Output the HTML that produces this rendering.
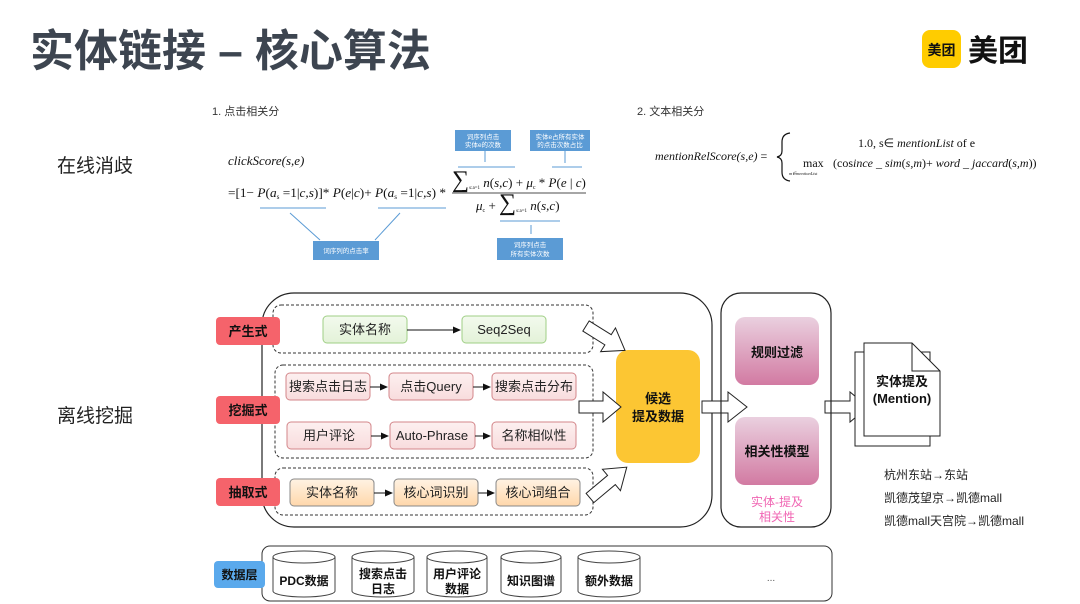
<!DOCTYPE html>
<html><head><meta charset="utf-8"><style>
html,body{margin:0;padding:0;background:#fff;}
svg{display:block;font-family:"Liberation Sans","Noto Sans CJK SC",sans-serif;}
.m{font-family:"Liberation Serif",serif;font-style:italic;fill:#111;}
.mr{font-family:"Liberation Serif",serif;font-size:13px;fill:#111;}
.bl{fill:#5b9bd5;}
.bt{fill:#fff;font-size:6.5px;text-anchor:middle;}
.t13{font-size:13px;fill:#222;text-anchor:middle;}
.b13{font-size:13px;fill:#111;text-anchor:middle;font-weight:bold;}
</style></head><body>
<svg width="1080" height="604" viewBox="0 0 1080 604" xmlns="http://www.w3.org/2000/svg">
<defs>
<linearGradient id="gg" x1="0" y1="0" x2="0" y2="1"><stop offset="0" stop-color="#f3faee"/><stop offset="1" stop-color="#e3f2d8"/></linearGradient>
<linearGradient id="rg" x1="0" y1="0" x2="0" y2="1"><stop offset="0" stop-color="#fdf0f0"/><stop offset="1" stop-color="#f8dcdd"/></linearGradient>
<linearGradient id="og" x1="0" y1="0" x2="0" y2="1"><stop offset="0" stop-color="#fff3e3"/><stop offset="1" stop-color="#ffd7ab"/></linearGradient>
<linearGradient id="pg" x1="0" y1="0" x2="0" y2="1"><stop offset="0" stop-color="#ead0df"/><stop offset="1" stop-color="#d27aa2"/></linearGradient>
<marker id="ah" markerWidth="8" markerHeight="8" refX="7" refY="4" orient="auto"><path d="M0,0.5 L8,4 L0,7.5 Z" fill="#111"/></marker>
</defs>

<!-- title -->
<text x="30" y="66" font-size="44" font-weight="bold" fill="#3d4550">实体链接 – 核心算法</text>
<rect x="922" y="30" width="39" height="38" rx="8" fill="#ffcc00"/>
<text x="941.5" y="55" font-size="14" font-weight="bold" text-anchor="middle" fill="#111">美团</text>
<text x="968" y="61" font-size="30" font-weight="bold" fill="#111">美团</text>

<text x="57" y="172" font-size="19" fill="#222">在线消歧</text>
<text x="57" y="422" font-size="19" fill="#222">离线挖掘</text>

<!-- formula 1 -->
<text x="212" y="115" font-size="11" fill="#333">1. 点击相关分</text>
<text x="228" y="165" class="m" style="font-size:13px">clickScore(s,e)</text>
<text x="228" y="197" class="mr" textLength="218" lengthAdjust="spacingAndGlyphs">=[1− <tspan class="m">P</tspan>(<tspan class="m">a</tspan><tspan font-size="7" dy="2">s</tspan><tspan dy="-2"> =1|</tspan><tspan class="m">c,s</tspan>)]* <tspan class="m">P</tspan>(<tspan class="m">e</tspan>|<tspan class="m">c</tspan>)+ <tspan class="m">P</tspan>(<tspan class="m">a</tspan><tspan font-size="7" dy="2">s</tspan><tspan dy="-2"> =1|</tspan><tspan class="m">c,s</tspan>) *</text>
<text x="452" y="187" class="mr"><tspan font-size="24">∑</tspan><tspan font-size="5" dy="2">s:a=1</tspan><tspan dy="-2" class="m"> n</tspan>(<tspan class="m">s,c</tspan>) + <tspan class="m">μ</tspan><tspan font-size="6" dy="2">c</tspan><tspan dy="-2"> * </tspan><tspan class="m">P</tspan>(<tspan class="m">e</tspan> | <tspan class="m">c</tspan>)</text>
<line x1="452" y1="193" x2="586" y2="193" stroke="#111" stroke-width="0.8"/>
<text x="476" y="210" class="mr"><tspan class="m">μ</tspan><tspan font-size="6" dy="2">c</tspan><tspan dy="-2"> + </tspan><tspan font-size="24">∑</tspan><tspan font-size="5" dy="2">s:a=1</tspan><tspan dy="-2" class="m"> n</tspan>(<tspan class="m">s,c</tspan>)</text>
<g stroke="#5b9bd5" stroke-width="1" fill="none">
<line x1="458" y1="167" x2="515" y2="167"/><line x1="485" y1="151" x2="485" y2="162"/>
<line x1="552" y1="167" x2="582" y2="167"/><line x1="565" y1="151" x2="565" y2="163"/>
<line x1="260" y1="208" x2="326" y2="208"/><line x1="378" y1="208" x2="446" y2="208"/>
<line x1="290" y1="213" x2="320" y2="240"/><line x1="400" y1="213" x2="375" y2="240"/>
<line x1="500" y1="221" x2="560" y2="221"/><line x1="531" y1="225" x2="531" y2="234"/>
</g>
<rect x="455" y="130" width="56" height="21" class="bl"/><text x="483" y="139" class="bt">词序列点击</text><text x="483" y="147" class="bt">实体e的次数</text>
<rect x="530" y="130" width="60" height="21" class="bl"/><text x="560" y="139" class="bt">实体e占所有实体</text><text x="560" y="147" class="bt">的点击次数占比</text>
<rect x="313" y="241" width="66" height="19" class="bl"/><text x="346" y="253" class="bt">词序列的点击率</text>
<rect x="497" y="238" width="66" height="22" class="bl"/><text x="530" y="247" class="bt">词序列点击</text><text x="530" y="256" class="bt">所有实体次数</text>

<!-- formula 2 -->
<text x="637" y="115" font-size="11" fill="#333">2. 文本相关分</text>
<text x="655" y="160" class="m" style="font-size:12px">mentionRelScore(s,e)<tspan style="font-style:normal"> =</tspan></text>
<path d="M790,133 Q782,134 782,142 L782,151 Q782,156 777,157 Q782,158 782,163 L782,172 Q782,180 790,181" fill="none" stroke="#111" stroke-width="1.2"/>
<text x="858" y="147" class="mr" style="font-size:12px">1.0,  s∈ <tspan class="m">mentionList</tspan> of e</text>
<text x="803" y="167" class="mr" style="font-size:12px">max</text>
<text x="789" y="175" class="m" style="font-size:4.5px">m∈mentionList</text>
<text x="833" y="167" class="mr" style="font-size:12px">(cos<tspan class="m">ince _ sim</tspan>(<tspan class="m">s,m</tspan>)+ <tspan class="m">word _ jaccard</tspan>(<tspan class="m">s,m</tspan>))</text>

<!-- main offline container -->
<rect x="262" y="293" width="450" height="234" rx="32" fill="#fff" stroke="#222" stroke-width="1.2"/>
<g fill="none" stroke="#333" stroke-dasharray="3,2" stroke-width="1">
<rect x="273" y="305" width="320" height="48" rx="8"/>
<rect x="275" y="365" width="318" height="93" rx="8"/>
<rect x="275" y="468" width="318" height="47" rx="8"/>
</g>
<g fill="#f5636b">
<rect x="216" y="317" width="64" height="28" rx="4"/>
<rect x="216" y="396" width="64" height="28" rx="4"/>
<rect x="216" y="478" width="64" height="28" rx="4"/>
</g>
<g font-size="13" font-weight="bold" fill="#111" text-anchor="middle">
<text x="248" y="336">产生式</text><text x="248" y="415">挖掘式</text><text x="248" y="497">抽取式</text>
</g>
<g stroke-width="1">
<rect x="323" y="316" width="84" height="27" rx="4" fill="url(#gg)" stroke="#9fcf85"/>
<rect x="462" y="316" width="84" height="27" rx="4" fill="url(#gg)" stroke="#9fcf85"/>
<rect x="286" y="373" width="84" height="27" rx="4" fill="url(#rg)" stroke="#d3868a"/>
<rect x="389" y="373" width="84" height="27" rx="4" fill="url(#rg)" stroke="#d3868a"/>
<rect x="492" y="373" width="84" height="27" rx="4" fill="url(#rg)" stroke="#d3868a"/>
<rect x="287" y="422" width="84" height="27" rx="4" fill="url(#rg)" stroke="#d3868a"/>
<rect x="390" y="422" width="85" height="27" rx="4" fill="url(#rg)" stroke="#d3868a"/>
<rect x="492" y="422" width="84" height="27" rx="4" fill="url(#rg)" stroke="#d3868a"/>
<rect x="290" y="479" width="84" height="27" rx="4" fill="url(#og)" stroke="#888"/>
<rect x="394" y="479" width="84" height="27" rx="4" fill="url(#og)" stroke="#888"/>
<rect x="496" y="479" width="84" height="27" rx="4" fill="url(#og)" stroke="#888"/>
</g>
<g>
<text x="365" y="334" class="t13">实体名称</text><text x="504" y="334" class="t13">Seq2Seq</text>
<text x="328" y="391" class="t13">搜索点击日志</text><text x="431" y="391" class="t13">点击Query</text><text x="534" y="391" class="t13">搜索点击分布</text>
<text x="329" y="440" class="t13">用户评论</text><text x="432" y="440" class="t13">Auto-Phrase</text><text x="534" y="440" class="t13">名称相似性</text>
<text x="332" y="497" class="t13">实体名称</text><text x="436" y="497" class="t13">核心词识别</text><text x="538" y="497" class="t13">核心词组合</text>
</g>
<g stroke="#111" stroke-width="1" marker-end="url(#ah)">
<line x1="407" y1="330" x2="460" y2="330"/>
<line x1="370" y1="387" x2="387" y2="387"/><line x1="473" y1="387" x2="490" y2="387"/>
<line x1="371" y1="436" x2="388" y2="436"/><line x1="475" y1="436" x2="490" y2="436"/>
<line x1="374" y1="493" x2="392" y2="493"/><line x1="478" y1="493" x2="494" y2="493"/>
</g>
<!-- yellow -->
<rect x="616" y="350" width="84" height="113" rx="12" fill="#fcc633"/>
<text x="658" y="403" class="b13" font-size="14">候选</text>
<text x="658" y="421" class="b13" font-size="14">提及数据</text>
<!-- hollow arrows -->
<g fill="#fff" stroke="#222" stroke-width="1">
<path d="M0,-6 L26,-6 L26,-14 L46,0 L26,14 L26,6 L0,6 Z" transform="translate(586,326) rotate(32)"/>
<path d="M0,-6 L24,-6 L24,-15 L42,0 L24,15 L24,6 L0,6 Z" transform="translate(579,407)"/>
<path d="M0,-6 L28,-6 L28,-14 L48,0 L28,14 L28,6 L0,6 Z" transform="translate(590,498) rotate(-40)"/>
<path d="M0,-6 L26,-6 L26,-15 L45,0 L26,15 L26,6 L0,6 Z" transform="translate(702,407)"/>
<path d="M0,-6 L25,-6 L25,-15 L43,0 L25,15 L25,6 L0,6 Z" transform="translate(825,407)"/>
</g>
<!-- second container -->
<rect x="721" y="293" width="110" height="234" rx="20" fill="none" stroke="#222" stroke-width="1.2"/>
<rect x="735" y="317" width="84" height="68" rx="10" fill="url(#pg)"/>
<rect x="735" y="417" width="84" height="68" rx="10" fill="url(#pg)"/>
<text x="777" y="357" class="b13">规则过滤</text>
<text x="777" y="456" class="b13">相关性模型</text>
<text x="777" y="506" font-size="12" fill="#f066b3" text-anchor="middle">实体-提及</text>
<text x="777" y="521" font-size="12" fill="#f066b3" text-anchor="middle">相关性</text>
<!-- document -->
<rect x="855" y="352" width="75" height="94" fill="#fff" stroke="#222"/>
<path d="M864,343 L912,343 L940,371 L940,436 L864,436 Z" fill="#fff" stroke="#222"/>
<path d="M912,343 L912,371 L940,371" fill="none" stroke="#222"/>
<text x="902" y="386" class="b13" font-size="13">实体提及</text>
<text x="902" y="403" class="b13" font-size="13">(Mention)</text>
<g font-size="12" fill="#222">
<text x="884" y="479">杭州东站→东站</text>
<text x="884" y="502">凯德茂望京→凯德mall</text>
<text x="884" y="525">凯德mall天宫院→凯德mall</text>
</g>
<!-- data layer -->
<rect x="262" y="546" width="570" height="55" rx="8" fill="#fff" stroke="#333" stroke-width="1"/>
<rect x="214" y="561" width="51" height="27" rx="4" fill="#5aa9ec"/>
<text x="239.5" y="579" font-size="12" font-weight="bold" text-anchor="middle" fill="#111">数据层</text>
<g fill="#fff" stroke="#444" stroke-width="1">
<path d="M273,557 v34 a31,6 0 0 0 62,0 v-34"/><ellipse cx="304" cy="557" rx="31" ry="6"/>
<path d="M352,557 v34 a31,6 0 0 0 62,0 v-34"/><ellipse cx="383" cy="557" rx="31" ry="6"/>
<path d="M427,557 v34 a30,6 0 0 0 60,0 v-34"/><ellipse cx="457" cy="557" rx="30" ry="6"/>
<path d="M501,557 v34 a30,6 0 0 0 60,0 v-34"/><ellipse cx="531" cy="557" rx="30" ry="6"/>
<path d="M578,557 v34 a31,6 0 0 0 62,0 v-34"/><ellipse cx="609" cy="557" rx="31" ry="6"/>
</g>
<g font-size="12" font-weight="bold" fill="#111" text-anchor="middle">
<text x="304" y="585">PDC数据</text>
<text x="383" y="578">搜索点击</text><text x="383" y="593">日志</text>
<text x="457" y="578">用户评论</text><text x="457" y="593">数据</text>
<text x="531" y="585">知识图谱</text>
<text x="609" y="585">额外数据</text>
</g>
<text x="771" y="581" font-size="10" fill="#555" text-anchor="middle">...</text>
</svg>
</body></html>
